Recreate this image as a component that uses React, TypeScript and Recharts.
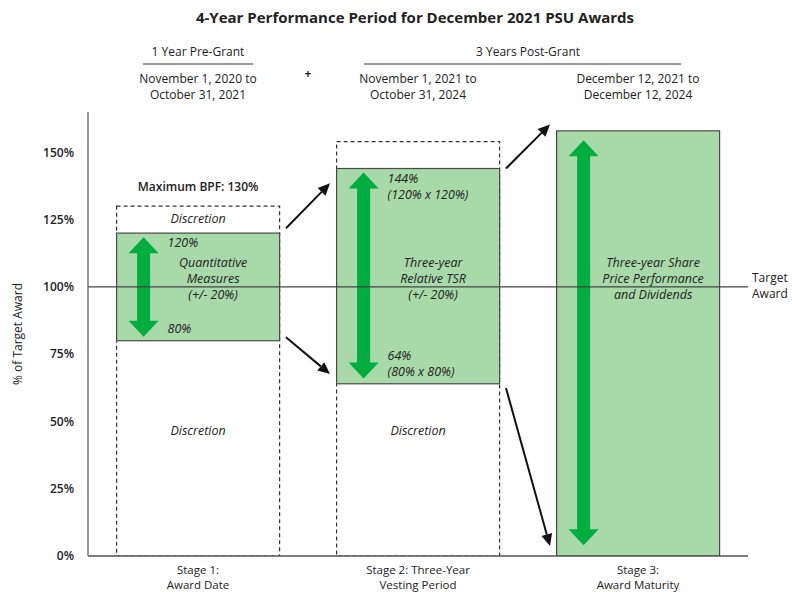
import React from "react";
import { ComposedChart, Bar, XAxis, YAxis, ReferenceLine } from "recharts";

// stages along the x axis
const stages = ["Stage 1", "Stage 2", "Stage 3"];
const stageTitles = [
  ["Stage 1:", "Award Date"],
  ["Stage 2: Three-Year", "Vesting Period"],
  ["Stage 3:", "Award Maturity"],
];
const periods = [
  ["November 1, 2020 to", "October 31, 2021"],
  ["November 1, 2021 to", "October 31, 2024"],
  ["December 12, 2021 to", "December 12, 2024"],
];
const phaseHeads = ["1 Year Pre-Grant", "3 Years Post-Grant"];

// % of target award
const rangeLow = [80, 64, 0];
const rangeHigh = [120, 144, 158];
const discretionTop = [130, 154, null];
const discretionCaption = ["Maximum BPF: 130%", "", ""];
const discretionUpper = ["Discretion", "", ""];
const discretionLower = ["Discretion", "Discretion", ""];
const arrowHigh = [118.5, 142.5, 154.5];
const arrowLow = [81.5, 66, 4];
const highNotes = [["120%"], ["144%", "(120% x 120%)"], []];
const lowNotes = [["80%"], ["64%", "(80% x 80%)"], []];
const drivers = [
  ["Quantitative", "Measures", "(+/- 20%)"],
  ["Three-year", "Relative TSR", "(+/- 20%)"],
  ["Three-year Share", "Price Performance", "and Dividends"],
];
// black transition arrows: [upper, lower] start and end values
const flowStart = [[121.8, 81.3], [144, 62.4]];
const flowEnd = [[138.5, 67.6], [160.4, 3.7]];
const yTicks = [0, 25, 50, 75, 100, 125, 150];

const FONT = "'Open Sans', 'Noto Sans', sans-serif";
const W = 792;
const H = 592;
const LEFT = 88;
const RIGHT = 44;
const BAND = (W - LEFT - RIGHT) / stages.length;
const GREEN = "#a8d9a8";
const ARROW_GREEN = "#00ad3f";
const INK = "#222";

const data = stages.map((name, i) => ({
  name,
  pos: i + 0.5,
  range: [rangeLow[i], rangeHigh[i]],
  discretion: discretionTop[i] == null ? null : [0, discretionTop[i]],
}));

const DiscretionShape = (props: any) => {
  const { x, y, width, height, index } = props;
  const top = discretionTop[index];
  if (top == null || !height) return null;
  const yOf = (v: number) => y + (height * (top - v)) / top;
  const cx = x + width / 2;
  return (
    <g>
      <rect x={x} y={y} width={width} height={height} fill="none" stroke="#333" strokeWidth={1.2} strokeDasharray="4 3" />
      {discretionCaption[index] && (
        <text x={cx} y={y - 15} textAnchor="middle" fontFamily={FONT} fontSize={12} fontWeight={600} fill={INK}>
          {discretionCaption[index]}
        </text>
      )}
      {discretionUpper[index] && (
        <text x={cx} y={y + 17} textAnchor="middle" fontFamily={FONT} fontSize={12.5} fontStyle="italic" fill={INK}>
          {discretionUpper[index]}
        </text>
      )}
      {discretionLower[index] && (
        <text x={cx} y={yOf(45)} textAnchor="middle" fontFamily={FONT} fontSize={12.5} fontStyle="italic" fill={INK}>
          {discretionLower[index]}
        </text>
      )}
    </g>
  );
};

const RangeShape = (props: any) => {
  const { x, y, width, height, index } = props;
  const lo = rangeLow[index];
  const hi = rangeHigh[index];
  const yOf = (v: number) => y + (height * (hi - v)) / (hi - lo);
  const ax = x + 27;
  const ty = yOf(arrowHigh[index]);
  const by = yOf(arrowLow[index]);
  const hw = 15;
  const hl = 16;
  const sw = 6.5;
  const pts = [
    [ax, ty], [ax + hw, ty + hl], [ax + sw, ty + hl], [ax + sw, by - hl], [ax + hw, by - hl],
    [ax, by], [ax - hw, by - hl], [ax - sw, by - hl], [ax - sw, ty + hl], [ax - hw, ty + hl],
  ].map((p) => p.join(",")).join(" ");
  const y100 = yOf(100);
  const lows = lowNotes[index];
  return (
    <g>
      <rect x={x} y={y} width={width} height={height} fill={GREEN} stroke="#4a4a4a" strokeWidth={1.2} />
      <polygon points={pts} fill={ARROW_GREEN} />
      <g fontFamily={FONT} fontSize={12.5} fontStyle="italic" fill={INK}>
        {highNotes[index].map((t, k) => (
          <text key={"h" + k} x={x + 51} y={y + 14 + k * 16}>{t}</text>
        ))}
        {lows.map((t, k) => (
          <text key={"l" + k} x={x + 51} y={y + height - 8 - (lows.length - 1 - k) * 16}>{t}</text>
        ))}
        {drivers[index].map((t, k) => (
          <text key={"d" + k} x={x + width / 2 + 15} y={y100 - 4 + (k - 1) * 16} textAnchor="middle">{t}</text>
        ))}
      </g>
    </g>
  );
};

const BottomTick = (props: any) => {
  const { x, y, index } = props;
  const lines = stageTitles[index] || [];
  return (
    <g fontFamily={FONT} fontSize={11.5} fill={INK}>
      {lines.map((t, k) => (
        <text key={k} x={x} y={y + 17.5 + k * 15.5} textAnchor="middle">{t}</text>
      ))}
    </g>
  );
};

const TopTick = (props: any) => {
  const { x, y, index } = props;
  const lines = periods[index] || [];
  return (
    <g fontFamily={FONT} fontSize={12} fill={INK}>
      {lines.map((t, k) => (
        <text key={k} x={x} y={y - 29 + k * 16} textAnchor="middle">{t}</text>
      ))}
      {index === 0 && (
        <g>
          <text x={x} y={y - 56} textAnchor="middle">{phaseHeads[0]}</text>
          <line x1={x - 55} x2={x + 55} y1={y - 48} y2={y - 48} stroke="#333" strokeWidth={1} />
          <text x={x + BAND / 2} y={y - 34} textAnchor="middle" fontSize={12} fontWeight={700}>+</text>
        </g>
      )}
      {index === 1 && (
        <g>
          <text x={x + BAND / 2} y={y - 56} textAnchor="middle">{phaseHeads[1]}</text>
          <line x1={x + BAND / 2 - 164} x2={x + BAND / 2 + 153} y1={y - 48} y2={y - 48} stroke="#333" strokeWidth={1} />
        </g>
      )}
    </g>
  );
};

const FlowArrow = (props: any) => {
  const { x1, y1, x2, y2 } = props;
  const ang = Math.atan2(y2 - y1, x2 - x1);
  const len = 12;
  const half = 5.5;
  const bx = x2 - len * Math.cos(ang);
  const byy = y2 - len * Math.sin(ang);
  const px = -Math.sin(ang) * half;
  const py = Math.cos(ang) * half;
  return (
    <g>
      <line x1={x1} y1={y1} x2={bx} y2={byy} stroke="#111" strokeWidth={2} />
      <polygon points={`${x2},${y2} ${bx + px},${byy + py} ${bx - px},${byy - py}`} fill="#111" />
    </g>
  );
};

const TargetLabel = (props: any) => {
  const vb = props.viewBox || {};
  const x = vb.x + vb.width + 4;
  const y = vb.y;
  return (
    <g fontFamily={FONT} fontSize={12} fill={INK}>
      <text x={x} y={y - 5}>Target</text>
      <text x={x} y={y + 11}>Award</text>
    </g>
  );
};

export default function App() {
  return (
    <div style={{ position: "absolute", left: 0, top: 0, width: W, height: H, background: "#fff" }}>
      <ComposedChart
        width={W}
        height={H}
        data={data}
        margin={{ top: 111, right: RIGHT, bottom: 0, left: 0 }}
        barCategoryGap="13%"
      >
        <XAxis
          xAxisId="cat"
          dataKey="name"
          type="category"
          height={36}
          interval={0}
          tickLine={false}
          tickSize={0}
          tickMargin={0}
          axisLine={{ stroke: "#555", strokeWidth: 1.5 }}
          tick={<BottomTick />}
        />
        <XAxis
          xAxisId="top"
          dataKey="name"
          type="category"
          orientation="top"
          height={1}
          interval={0}
          tickLine={false}
          tickSize={0}
          tickMargin={0}
          axisLine={false}
          tick={<TopTick />}
        />
        <XAxis xAxisId="num" dataKey="pos" type="number" domain={[0, 3]} allowDataOverflow hide />
        <YAxis
          width={LEFT}
          domain={[0, 165]}
          ticks={yTicks}
          allowDataOverflow
          tickFormatter={(v) => `${v}%`}
          tickLine={false}
          tickSize={0}
          tickMargin={14}
          axisLine={{ stroke: "#777", strokeWidth: 1.5 }}
          tick={{ fontFamily: FONT, fontSize: 12, fill: INK, fontWeight: 600 }}
        />
        <ReferenceLine
          xAxisId="cat"
          y={100}
          stroke="#444"
          strokeWidth={1.2}
          label={<TargetLabel />}
        />
        <Bar xAxisId="top" dataKey="discretion" shape={<DiscretionShape />} isAnimationActive={false} />
        <Bar xAxisId="cat" dataKey="range" shape={<RangeShape />} isAnimationActive={false} />
        {flowStart.map((pair, i) =>
          pair.map((v, k) => (
            <ReferenceLine
              key={`f${i}${k}`}
              xAxisId="num"
              ifOverflow="visible"
              segment={[
                { x: i + 0.9, y: v },
                { x: i + 1.1, y: flowEnd[i][k] },
              ]}
              shape={<FlowArrow />}
            />
          ))
        )}
      </ComposedChart>
      <svg width={W} height={H} style={{ position: "absolute", left: 0, top: 0, pointerEvents: "none" }}>
        <text x={415} y={23} textAnchor="middle" fontFamily={FONT} fontSize={15} fontWeight={700} fill={INK}>
          4-Year Performance Period for December 2021 PSU Awards
        </text>
        <text
          x={22}
          y={334}
          textAnchor="middle"
          transform="rotate(-90 22 334)"
          fontFamily={FONT}
          fontSize={12}
          fill={INK}
        >
          % of Target Award
        </text>
      </svg>
    </div>
  );
}
